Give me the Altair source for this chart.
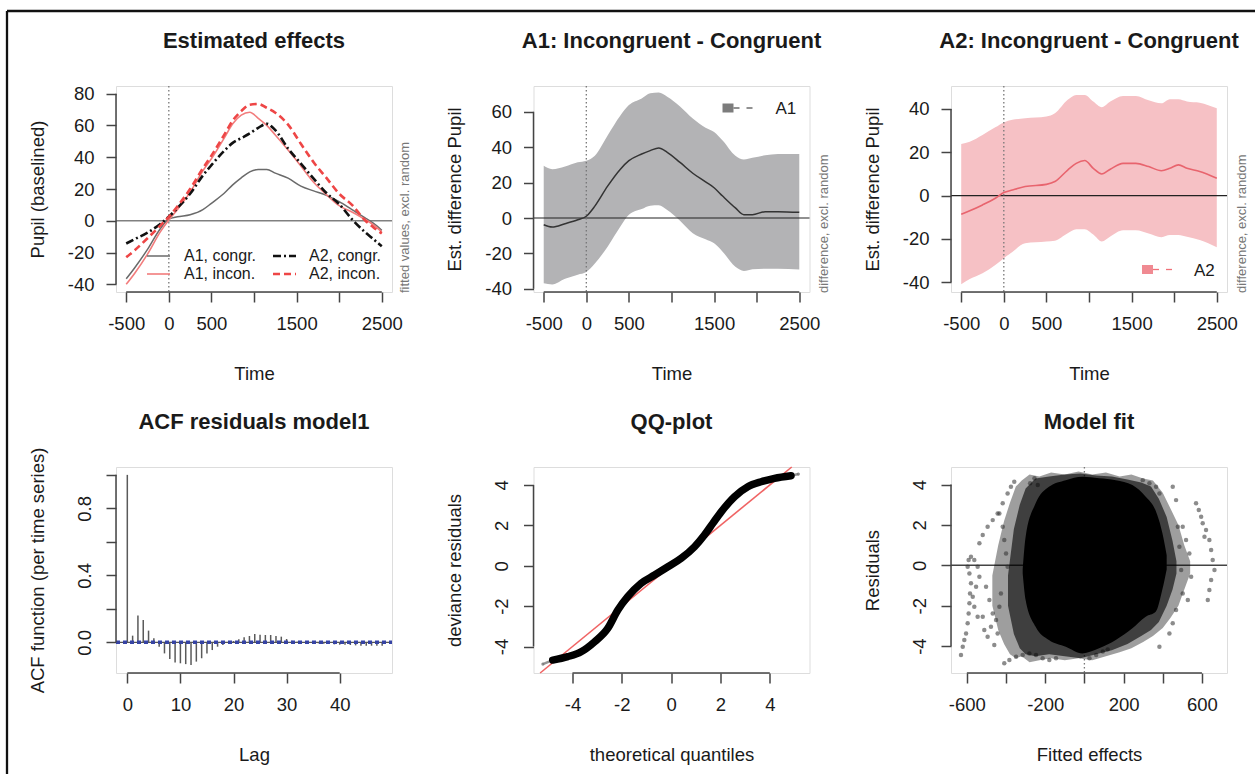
import altair as alt
import pandas as pd

# ---------------- data ----------------
# Panel 1: estimated effects (fitted values)
t1 = [-500, -400, -250, -100, 0, 100, 250, 400, 500, 650, 750, 850, 950, 1050, 1150,
      1250, 1400, 1550, 1700, 1850, 2000, 2150, 2300, 2400, 2500]
a1_congr = [-36.5, -29.5, -18, -5, 1, 2.5, 3.8, 7, 11, 17.3, 22.6, 27, 30.8, 32.3, 32.3,
            30, 26.8, 21.8, 18.8, 16, 12, 7, 2, -1.5, -6]
a1_incon = [-40, -33, -21, -7, 0.5, 7, 18, 31.5, 39, 52, 61, 66.5, 68.3, 64.5, 60,
            54, 44.5, 34.5, 24.3, 16.5, 9.5, 5.5, 1, -2.5, -7]
a2_congr = [-14.3, -11.5, -7.5, -2, 2.5, 8, 17, 28.5, 35, 44, 49, 52, 55, 58.5, 61,
            57, 45.5, 36, 26.5, 17.5, 10.5, 1, -7, -11.5, -16]
a2_incon = [-23, -18.5, -11, -3, 2.5, 9, 20, 33, 41, 54, 63, 69, 73, 73.5, 71,
            68, 60.5, 48.5, 36.8, 27, 17, 10, 0.5, -4, -8]

# Panel 2: A1 difference
t2 = [-500, -400, -250, -100, 0, 100, 250, 400, 500, 650, 750, 850, 950, 1100, 1250,
      1400, 1500, 1600, 1750, 1850, 1950, 2100, 2250, 2500]
a1_diff = [-3.8, -5.1, -3.2, -1, 1, 6.7, 18, 27.6, 32.4, 36.2, 38.1, 39.6, 37.1, 31.4, 25.3,
           20.4, 17.1, 12.4, 5.7, 1.9, 1.9, 3.6, 3.6, 3.2]
a1_upper = [29.5, 27.6, 29.1, 31.5, 32.4, 35.2, 46.7, 58, 63.8, 67.6, 70.5, 70.9, 68.5, 63, 56.2,
            51, 48.6, 43.8, 35.2, 33, 34, 35.5, 36.2, 36.2]
a1_lower = [-36.8, -37.5, -34.3, -32, -30.5, -25.7, -16.2, -4.8, 1.9, 5.1, 7, 7.2, 4.5, -1.5, -8.6,
            -12, -14.3, -19, -27.6, -29.9, -29, -28.6, -28.6, -29.1]

# Panel 3: A2 difference
t3 = [-500, -400, -250, -100, 0, 100, 250, 500, 600, 750, 850, 950, 1050, 1150, 1250,
      1400, 1550, 1700, 1850, 1950, 2050, 2150, 2300, 2500]
a2_diff = [-8.6, -7, -4.3, -1.2, 1.4, 2.6, 4.2, 5.2, 6.5, 11.8, 14.9, 16.2, 12.6, 10, 12.2,
           14.9, 14.9, 13.4, 11.5, 12.6, 14.2, 12.6, 11.1, 8]
a2_upper = [23.8, 24.9, 28, 31.5, 33.8, 35, 35.7, 36.5, 38, 44.2, 46.5, 46.5, 43.4, 40.8, 43.4,
            46, 46, 44, 42.6, 44.5, 44.5, 43.5, 42.9, 40.3]
a2_lower = [-40.9, -38.5, -35.8, -32, -28.9, -26, -22, -21.2, -20.8, -17.4, -15.5, -15.5, -18, -21.2, -18.9,
            -16, -16, -17.5, -19.2, -18.2, -18.2, -19, -20.5, -23.8]

# Panel 4: ACF of residuals
lags = list(range(49))
acf = [1.0, 0.04, 0.16, 0.133, 0.07, 0.024, -0.026, -0.066, -0.10, -0.12,
       -0.125, -0.13, -0.135, -0.115, -0.095, -0.066, -0.046, -0.026, -0.016, -0.004,
       0.008, 0.018, 0.03, 0.038, 0.05, 0.046, 0.044, 0.044, 0.038, 0.034,
       0.02, 0.01, 0.004, 0.0, -0.003, -0.005, -0.006, -0.008, -0.01, -0.012,
       -0.014, -0.015, -0.016, -0.018, -0.02, -0.02, -0.02, -0.02, -0.02]
acf_ci = [0.005, -0.005]

# Panel 5: QQ plot
qq_x = [-4.8, -4.19, -3.65, -3.1, -2.57, -2.16, -1.76, -1.22, -0.67, -0.13,
        0.41, 0.95, 1.35, 1.69, 2.03, 2.57, 3.11, 3.65, 4.19, 4.86]
qq_y = [-4.67, -4.5, -4.26, -3.76, -3.1, -2.19, -1.53, -0.87, -0.46, -0.05,
        0.37, 0.94, 1.52, 2.1, 2.67, 3.42, 3.91, 4.16, 4.33, 4.46]
qq_tail_x = [-5.2, -4.8, 4.86, 5.16]
qq_tail_y = [-4.87, -4.67, 4.46, 4.54]
qq_tail_g = ["lo", "lo", "hi", "hi"]
qq_ref = [-5.31, 4.89]

# Panel 6: model fit (dense core outline, density halos, sparse points)
core_x = [-315, -300, -249, -181, -95, -10, 75, 160, 245, 313, 364, 398, 420]
core_top = [-0.2, 1.42, 3.07, 3.89, 4.22, 4.39, 4.31, 4.22, 3.98, 3.4, 2.7, 1.6, 0.5]
core_bot = [-0.4, -1.72, -3.04, -3.7, -4.03, -4.36, -4.11, -3.7, -3.12, -2.54, -2.3, -1.2, -0.2]
mid_x = [-390, -360, -330, -300, -250, -180, -100, -20, 60, 140, 220, 290, 340, 380, 420, 450, 470]
mid_top = [-0.5, 1.8, 3.0, 3.8, 4.3, 4.4, 4.5, 4.55, 4.45, 4.4, 4.25, 4.1, 3.9, 3.3, 2.4, 1.2, 0.2]
mid_bot = [-2.0, -3.4, -4.1, -4.4, -4.5, -4.4, -4.5, -4.6, -4.4, -4.2, -3.9, -3.5, -3.2, -2.8, -2.0, -1.2, -0.4]
out_x = [-470, -440, -410, -380, -350, -320, -280, -230, -170, -100, -30, 40, 110, 180, 240, 300, 350, 400, 440, 480, 510, 540]
out_top = [-0.5, 1.0, 2.2, 3.1, 3.9, 4.2, 4.5, 4.4, 4.6, 4.5, 4.65, 4.5, 4.6, 4.4, 4.5, 4.3, 4.2, 3.6, 2.8, 2.0, 1.0, 0.2]
out_bot = [-2.0, -3.2, -3.9, -4.4, -4.6, -4.5, -4.8, -4.7, -4.6, -4.7, -4.6, -4.7, -4.5, -4.3, -4.1, -3.8, -3.5, -3.1, -2.6, -2.0, -1.2, -0.4]
fit_px = [-630, -621, -613, -604, -596, -591, -587, -584, -579, -587, -596, -591, -579, -562, -545, -536, -553, -570, -562, -545,
          -536, -519, -494, -468, -443, -417, -392, -375, -358,
          -502, -485, -468, -477, -494, -451, -434, -426, -443, -460, -519, -511,
          -417, -409, -400, -392, -434,
          -277, -255, -238,
          -409, -383, -349, -315, -281, -247, -213, -179, -145,
          26, 60, 94, 119,
          451, 468, 477, 485, 494, 502, 468, 451, 434, 383,
          570, 584, 596, 604, 621, 613,
          502, 519, 536, 545, 528,
          638, 647, 655, 664, 647, 638, 630,
          298, 332, 366, 383]
fit_py = [-4.44, -4.03, -3.70, -3.37, -2.87, -2.38, -1.88, -1.39, -0.89, -0.40, -0.07, 0.26, 0.43, 0.26, -0.07, -0.56, -1.06, -1.55, -2.05, -2.54,
          1.09, 1.50, 1.91, 2.24, 2.57, 3.07, 3.56, 3.89, 4.14,
          -1.06, -1.72, -2.38, -3.04, -3.53, -2.71, -2.05, -1.39, -3.37, -3.94, -2.54, -3.20,
          1.91, 1.25, 0.59, -0.07, 2.57,
          4.06, 4.31, 3.98,
          -4.85, -4.69, -4.52, -4.44, -4.36, -4.44, -4.60, -4.69, -4.60,
          -4.60, -4.44, -4.27, -4.16,
          3.89, 3.23, 1.91, 0.92, -0.23, -1.39, -2.21, -2.87, -3.37, -4.03,
          3.07, 2.74, 2.41, 2.08, 1.75, 1.42,
          1.91, 1.25, 0.59, -0.56, -1.72,
          1.25, 0.76, 0.26, -0.23, -0.73, -1.22, -1.72,
          4.22, 4.06, 3.89, 3.56]

# ---------------- styling helpers ----------------
FONT = "Liberation Sans"
W, H = 276, 206
AX = "#444444"
TXT = "#1a1a1a"
LAB = 18.5
ONE = pd.DataFrame({"k": [0]})


def sc(lo, hi):
    return alt.Scale(domain=[lo, hi], nice=False, zero=False)


def xaxis(values, expr, title):
    return alt.Axis(values=values, title=title, domain=False, grid=False,
                    ticks=True, tickSize=10, tickWidth=1.5, tickColor=AX,
                    labelFont=FONT, labelFontSize=LAB, labelColor=TXT, labelPadding=12,
                    labelExpr=expr, labelOverlap=False, labelFlush=False,
                    titleFont=FONT, titleFontSize=LAB, titleFontWeight="normal", titleColor=TXT,
                    titleX=W / 2, titleY=81, titleAlign="center", titleBaseline="middle", titleAngle=0)


def yaxis(values, expr, title, rotated=False):
    if rotated:
        kw = dict(labelAngle=270, labelAlign="center", labelBaseline="bottom", labelPadding=12)
    else:
        kw = dict(labelAngle=0, labelAlign="right", labelBaseline="middle", labelPadding=12)
    return alt.Axis(values=values, title=title, domain=False, grid=False,
                    ticks=True, tickSize=10, tickWidth=1.5, tickColor=AX,
                    labelFont=FONT, labelFontSize=LAB, labelColor=TXT,
                    labelExpr=expr, labelOverlap=False, labelFlush=False,
                    titleFont=FONT, titleFontSize=LAB, titleFontWeight="normal", titleColor=TXT,
                    titleX=-79, titleY=H / 2, titleAlign="center", titleBaseline="middle", titleAngle=270,
                    **kw)


def xline(x0, x1, xs, xa):
    df = pd.DataFrame({"a": [x0], "b": [x1]})
    return alt.Chart(df).mark_rule(color=AX, strokeWidth=1.5).encode(
        x=alt.X("a:Q", scale=xs, axis=xa), x2=alt.X2("b"), y=alt.value(H))


def yline(y0, y1, ys, ya):
    df = pd.DataFrame({"a": [y0], "b": [y1]})
    return alt.Chart(df).mark_rule(color=AX, strokeWidth=1.5).encode(
        y=alt.Y("a:Q", scale=ys, axis=ya), y2=alt.Y2("b"), x=alt.value(0))


def hzero(ys, ya, color, width, vals=(0,), dash=None):
    df = pd.DataFrame({"a": list(vals)})
    kw = dict(color=color, strokeWidth=width)
    if dash:
        kw["strokeDash"] = dash
    return alt.Chart(df).mark_rule(**kw).encode(
        y=alt.Y("a:Q", scale=ys, axis=ya), x=alt.value(0), x2=alt.value(W))


def vzero(xs, xa):
    df = pd.DataFrame({"a": [0]})
    return alt.Chart(df).mark_rule(color="#777777", strokeWidth=1.3, strokeDash=[1.5, 2.5]).encode(
        x=alt.X("a:Q", scale=xs, axis=xa), y=alt.value(0), y2=alt.value(H))


def text(txt, x, y, size=LAB, weight="normal", color=TXT, angle=0, align="center", baseline="middle"):
    return alt.Chart(ONE).mark_text(text=txt, font=FONT, fontSize=size, fontWeight=weight, color=color,
                                    angle=angle, align=align, baseline=baseline).encode(
        x=alt.value(x), y=alt.value(y))


def title(txt):
    return text(txt, W / 2, -38, size=22, weight="bold", baseline="alphabetic")


def seg(x0, x1, y, color, width, dash=None):
    kw = dict(color=color, strokeWidth=width)
    if dash:
        kw["strokeDash"] = dash
    return alt.Chart(ONE).mark_rule(**kw).encode(x=alt.value(x0), x2=alt.value(x1), y=alt.value(y))


def vseg(x, y0, y1, color, width):
    return alt.Chart(ONE).mark_rule(color=color, strokeWidth=width).encode(
        x=alt.value(x), y=alt.value(y0), y2=alt.value(y1))


def box(x0, x1, y0, y1, color):
    return alt.Chart(ONE).mark_rect(color=color).encode(
        x=alt.value(x0), x2=alt.value(x1), y=alt.value(y0), y2=alt.value(y1))


TIME_VALUES = [-500, 0, 500, 1000, 1500, 2000, 2500]
TIME_EXPR = "datum.value == 1000 || datum.value == 2000 ? '' : '' + datum.value"
PLAIN = "'' + datum.value"

# ---------------- panel 1 ----------------
xs1, ys1 = sc(-620, 2620), sc(-44.8, 84.8)
xa1 = xaxis(TIME_VALUES, TIME_EXPR, "Time")
ya1 = yaxis([-40, -20, 0, 20, 40, 60, 80], PLAIN, "Pupil (baselined)")
df1 = pd.DataFrame({"t": t1, "a1c": a1_congr, "a1i": a1_incon, "a2c": a2_congr, "a2i": a2_incon})


def line1(col, color, width, dash=None):
    kw = dict(color=color, strokeWidth=width, interpolate="monotone")
    if dash:
        kw["strokeDash"] = dash
    return alt.Chart(df1).mark_line(**kw).encode(
        x=alt.X("t:Q", scale=xs1, axis=xa1), y=alt.Y(f"{col}:Q", scale=ys1, axis=ya1))


C_A1C, C_A1I, C_A2C, C_A2I = "#6a6a6a", "#f27c7c", "#111111", "#ee4646"
p1 = alt.layer(
    hzero(ys1, ya1, "#808080", 1.5),
    vzero(xs1, xa1),
    line1("a1c", C_A1C, 1.5),
    line1("a1i", C_A1I, 1.6),
    line1("a2c", C_A2C, 2.6, [8, 3, 2, 3]),
    line1("a2i", C_A2I, 2.6, [7, 4]),
    xline(-500, 2500, xs1, xa1),
    yline(-40, 80, ys1, ya1),
    seg(31, 54, 170, C_A1C, 1.5),
    seg(31, 54, 188, C_A1I, 1.6),
    seg(157, 180, 170, C_A2C, 2.6, [8, 3, 2, 3]),
    seg(157, 180, 188, C_A2I, 2.6, [7, 4]),
    text("A1, congr.", 68, 170, size=16, align="left"),
    text("A1, incon.", 68, 188, size=16, align="left"),
    text("A2, congr.", 193, 170, size=16, align="left"),
    text("A2, incon.", 193, 188, size=16, align="left"),
    text("fitted values, excl. random", 289, 207, size=13, color="#777777", angle=270, align="left"),
    title("Estimated effects"),
    seg(-109, 1139, -75, "#111111", 2.3),
    vseg(-109, -75, 688, "#111111", 2.3),
).properties(width=W, height=H)

# ---------------- panel 2 ----------------
xs2, ys2 = sc(-620, 2620), sc(-41.8, 74.6)
xa2 = xaxis(TIME_VALUES, TIME_EXPR, "Time")
ya2 = yaxis([-40, -20, 0, 20, 40, 60], PLAIN, "Est. difference Pupil")
df2 = pd.DataFrame({"t": t2, "m": a1_diff, "hi": a1_upper, "lo": a1_lower})
p2 = alt.layer(
    alt.Chart(df2).mark_area(color="#b3b3b5", interpolate="monotone").encode(
        x=alt.X("t:Q", scale=xs2, axis=xa2), y=alt.Y("hi:Q", scale=ys2, axis=ya2), y2=alt.Y2("lo")),
    hzero(ys2, ya2, "#222222", 1.1),
    vzero(xs2, xa2),
    alt.Chart(df2).mark_line(color="#333333", strokeWidth=1.5, interpolate="monotone").encode(
        x=alt.X("t:Q", scale=xs2, axis=xa2), y=alt.Y("m:Q", scale=ys2, axis=ya2)),
    xline(-500, 2500, xs2, xa2),
    yline(-40, 60, ys2, ya2),
    box(189, 200, 17.5, 26.5, "#7c7c7c"),
    seg(200, 206, 22, "#555555", 1.3),
    seg(213, 219, 22, "#555555", 1.3),
    text("A1", 242, 22.5, size=17, align="left"),
    text("difference, excl. random", 290, 207, size=13, color="#777777", angle=270, align="left"),
    title("A1: Incongruent - Congruent"),
).properties(width=W, height=H)

# ---------------- panel 3 ----------------
xs3, ys3 = sc(-620, 2620), sc(-44.5, 50.6)
xa3 = xaxis(TIME_VALUES, TIME_EXPR, "Time")
ya3 = yaxis([-40, -20, 0, 20, 40], PLAIN, "Est. difference Pupil")
df3 = pd.DataFrame({"t": t3, "m": a2_diff, "hi": a2_upper, "lo": a2_lower})
p3 = alt.layer(
    alt.Chart(df3).mark_area(color="#f6c1c5", interpolate="monotone").encode(
        x=alt.X("t:Q", scale=xs3, axis=xa3), y=alt.Y("hi:Q", scale=ys3, axis=ya3), y2=alt.Y2("lo")),
    hzero(ys3, ya3, "#222222", 1.1),
    vzero(xs3, xa3),
    alt.Chart(df3).mark_line(color="#e8646e", strokeWidth=1.6, interpolate="monotone").encode(
        x=alt.X("t:Q", scale=xs3, axis=xa3), y=alt.Y("m:Q", scale=ys3, axis=ya3)),
    xline(-500, 2500, xs3, xa3),
    yline(-40, 40, ys3, ya3),
    box(191, 202, 179, 188, "#f08a92"),
    seg(202, 208, 183.5, "#f07078", 1.3),
    seg(215, 221, 183.5, "#f07078", 1.3),
    text("A2", 243, 184.5, size=17, align="left"),
    text("difference, excl. random", 291, 207, size=13, color="#777777", angle=270, align="left"),
    title("A2: Incongruent - Congruent"),
).properties(width=W, height=H)

# ---------------- panel 4 ----------------
xs4, ys4 = sc(-2.13, 49.85), sc(-0.183, 1.047)
xa4 = xaxis([0, 10, 20, 30, 40], PLAIN, "Lag")
ya4 = yaxis([0, 0.2, 0.4, 0.6, 0.8, 1.0],
            "round(datum.value * 10) % 4 == 0 ? format(datum.value, '.1f') : ''",
            "ACF function (per time series)", rotated=True)
df4 = pd.DataFrame({"lag": lags, "acf": acf, "base": [0] * len(lags)})
p4 = alt.layer(
    hzero(ys4, ya4, "#555555", 1.2),
    alt.Chart(df4).mark_rule(color="#5a5a5a", strokeWidth=1.5).encode(
        x=alt.X("lag:Q", scale=xs4, axis=xa4), y=alt.Y("acf:Q", scale=ys4, axis=ya4), y2=alt.Y2("base")),
    hzero(ys4, ya4, "#3543a8", 1.8, vals=acf_ci, dash=[4, 3]),
    xline(0, 40, xs4, xa4),
    yline(0, 1, ys4, ya4),
    title("ACF residuals model1"),
).properties(width=W, height=H)

# ---------------- panel 5 ----------------
xs5, ys5 = sc(-5.58, 5.61), sc(-5.31, 4.89)
xa5 = xaxis([-4, -2, 0, 2, 4], PLAIN, "theoretical quantiles")
ya5 = yaxis([-4, -2, 0, 2, 4], PLAIN, "deviance residuals", rotated=True)
df5 = pd.DataFrame({"q": qq_x, "r": qq_y})
df5t = pd.DataFrame({"q": qq_tail_x, "r": qq_tail_y, "g": qq_tail_g})
df5r = pd.DataFrame({"q": qq_ref, "r": qq_ref})
p5 = alt.layer(
    alt.Chart(df5r).mark_line(color="#f06464", strokeWidth=1.6).encode(
        x=alt.X("q:Q", scale=xs5, axis=xa5), y=alt.Y("r:Q", scale=ys5, axis=ya5)),
    alt.Chart(df5t).mark_line(color="#666666", strokeWidth=2.5, opacity=0.7).encode(
        x=alt.X("q:Q", scale=xs5, axis=xa5), y=alt.Y("r:Q", scale=ys5, axis=ya5), detail="g:N"),
    alt.Chart(df5t).mark_circle(color="#777777", size=10, opacity=0.8).encode(
        x=alt.X("q:Q", scale=xs5, axis=xa5), y=alt.Y("r:Q", scale=ys5, axis=ya5)),
    alt.Chart(df5).mark_line(color="#000000", strokeWidth=7.5, strokeCap="round", interpolate="monotone").encode(
        x=alt.X("q:Q", scale=xs5, axis=xa5), y=alt.Y("r:Q", scale=ys5, axis=ya5)),
    xline(-4, 4, xs5, xa5),
    yline(-4, 4, ys5, ya5),
    title("QQ-plot"),
).properties(width=W, height=H)

# ---------------- panel 6 ----------------
xs6, ys6 = sc(-681, 728), sc(-5.33, 4.87)
xa6 = xaxis([-600, -400, -200, 0, 200, 400, 600],
            "datum.value == 0 || abs(datum.value) == 400 ? '' : '' + datum.value", "Fitted effects")
ya6 = yaxis([-4, -2, 0, 2, 4], PLAIN, "Residuals", rotated=True)
df6o = pd.DataFrame({"x": out_x, "top": out_top, "bot": out_bot})
df6m = pd.DataFrame({"x": mid_x, "top": mid_top, "bot": mid_bot})
df6c = pd.DataFrame({"x": core_x, "top": core_top, "bot": core_bot})
df6p = pd.DataFrame({"x": fit_px, "y": fit_py})


def band6(df, opacity, interp):
    return alt.Chart(df).mark_area(color="#000000", opacity=opacity, interpolate=interp).encode(
        x=alt.X("x:Q", scale=xs6, axis=xa6), y=alt.Y("top:Q", scale=ys6, axis=ya6), y2=alt.Y2("bot"))


p6 = alt.layer(
    hzero(ys6, ya6, "#444444", 1.5),
    vzero(xs6, xa6),
    band6(df6o, 0.38, "linear"),
    alt.Chart(df6p).mark_circle(color="#2e2e2e", size=20, opacity=0.55).encode(
        x=alt.X("x:Q", scale=xs6, axis=xa6), y=alt.Y("y:Q", scale=ys6, axis=ya6)),
    band6(df6m, 0.6, "linear"),
    band6(df6c, 1.0, "monotone"),
    xline(-600, 600, xs6, xa6),
    yline(-4, 4, ys6, ya6),
    title("Model fit"),
).properties(width=W, height=H)

chart = alt.concat(
    p1, p2, p3, p4, p5, p6,
    columns=3,
    spacing={"row": 175, "column": 141.5},
    bounds="flush",
).properties(
    padding={"left": 5, "top": 9, "right": 0, "bottom": 0},
    background="white",
).configure_view(stroke=None).configure(font=FONT)

chart.save("out.html", embed_options={"renderer": "svg", "actions": False})
